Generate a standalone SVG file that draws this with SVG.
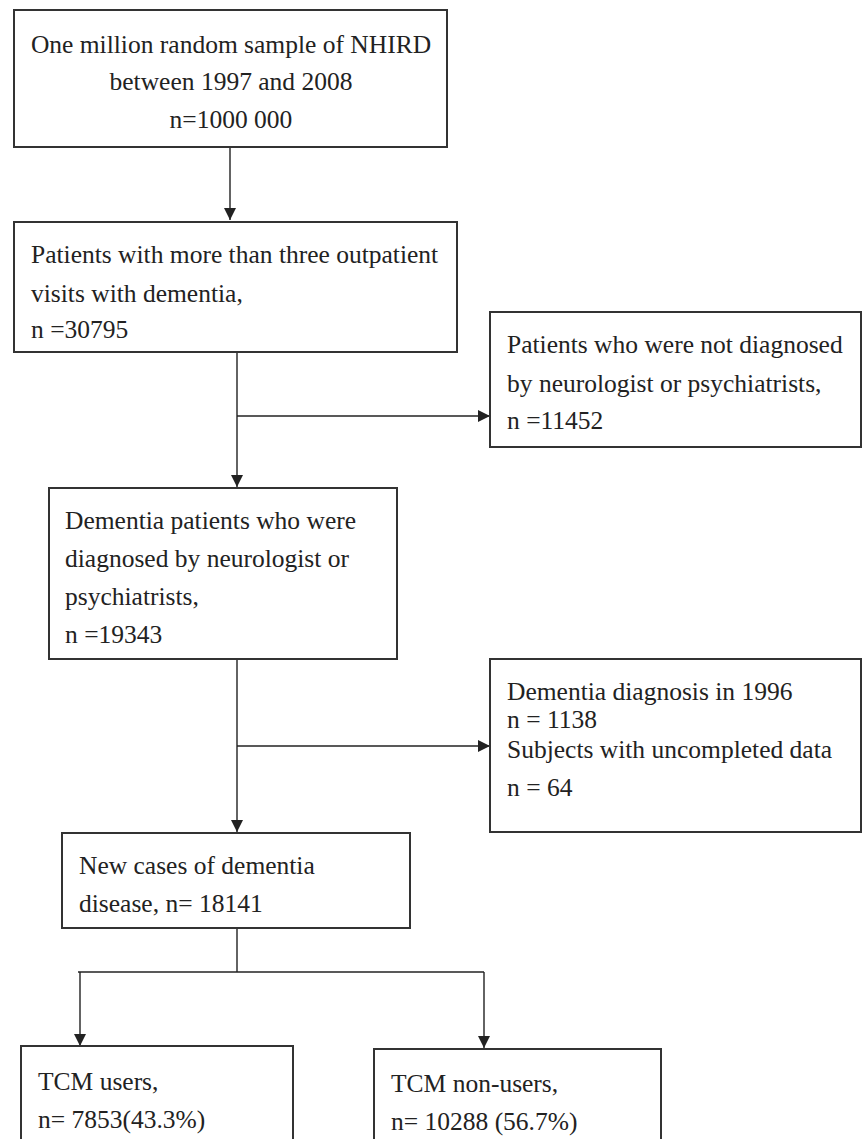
<svg xmlns="http://www.w3.org/2000/svg" width="863" height="1139" viewBox="0 0 863 1139">
<style>
.box{fill:#fff;stroke:#333;stroke-width:2}
.t{font-family:"Liberation Serif","Times New Roman",serif;font-size:25.5px;fill:#222}
.c{text-anchor:middle}
.ln{fill:none;stroke:#222;stroke-width:1.4}
</style>
<defs>
<marker id="ah" markerUnits="userSpaceOnUse" markerWidth="12" markerHeight="12" refX="12" refY="6" orient="auto">
<path d="M0,0 L12,6 L0,12 z" fill="#222"/>
</marker>
</defs>
<rect width="863" height="1139" fill="#fff"/>
<g id="connectors">
<path class="ln" d="M230,147 V220" marker-end="url(#ah)"/>
<path class="ln" d="M237,352 V487" marker-end="url(#ah)"/>
<path class="ln" d="M237,416 H490" marker-end="url(#ah)"/>
<path class="ln" d="M237,659 V832" marker-end="url(#ah)"/>
<path class="ln" d="M237,746 H490" marker-end="url(#ah)"/>
<path class="ln" d="M237,928 V972"/>
<path class="ln" d="M78,972 H484"/>
<path class="ln" d="M80,972 V1046" marker-end="url(#ah)"/>
<path class="ln" d="M484,972 V1048" marker-end="url(#ah)"/>
</g>
<g id="n1">
<rect class="box" x="14" y="10" width="433" height="137"/>
<text class="t c" x="231" y="53">One million random sample of NHIRD</text>
<text class="t c" x="231" y="90">between 1997 and 2008</text>
<text class="t c" x="231" y="128">n=1000 000</text>
</g>
<g id="n2">
<rect class="box" x="14" y="222" width="443" height="130"/>
<text class="t" x="31" y="263">Patients with more than three outpatient</text>
<text class="t" x="31" y="302">visits with dementia,</text>
<text class="t" x="31" y="338">n =30795</text>
</g>
<g id="n3">
<rect class="box" x="490" y="312" width="371" height="135"/>
<text class="t" x="507" y="353">Patients who were not diagnosed</text>
<text class="t" x="507" y="392">by neurologist or psychiatrists,</text>
<text class="t" x="507" y="429">n =11452</text>
</g>
<g id="n4">
<rect class="box" x="49" y="488" width="348" height="171"/>
<text class="t" x="65" y="529">Dementia patients who were</text>
<text class="t" x="65" y="567">diagnosed by neurologist or</text>
<text class="t" x="65" y="605">psychiatrists,</text>
<text class="t" x="65" y="643">n =19343</text>
</g>
<g id="n5">
<rect class="box" x="490" y="659" width="371" height="173"/>
<text class="t" x="507" y="700">Dementia diagnosis in 1996</text>
<text class="t" x="507" y="728">n = 1138</text>
<text class="t" x="507" y="758">Subjects with uncompleted data</text>
<text class="t" x="507" y="796">n = 64</text>
</g>
<g id="n6">
<rect class="box" x="62" y="833" width="348" height="95"/>
<text class="t" x="79" y="874">New cases of dementia</text>
<text class="t" x="79" y="912">disease, n= 18141</text>
</g>
<g id="n7">
<rect class="box" x="21" y="1046" width="272" height="110"/>
<text class="t" x="38" y="1090">TCM users,</text>
<text class="t" x="38" y="1128">n= 7853(43.3%)</text>
</g>
<g id="n8">
<rect class="box" x="374" y="1049" width="287" height="110"/>
<text class="t" x="391" y="1092">TCM non-users,</text>
<text class="t" x="391" y="1130">n= 10288 (56.7%)</text>
</g>
</svg>
